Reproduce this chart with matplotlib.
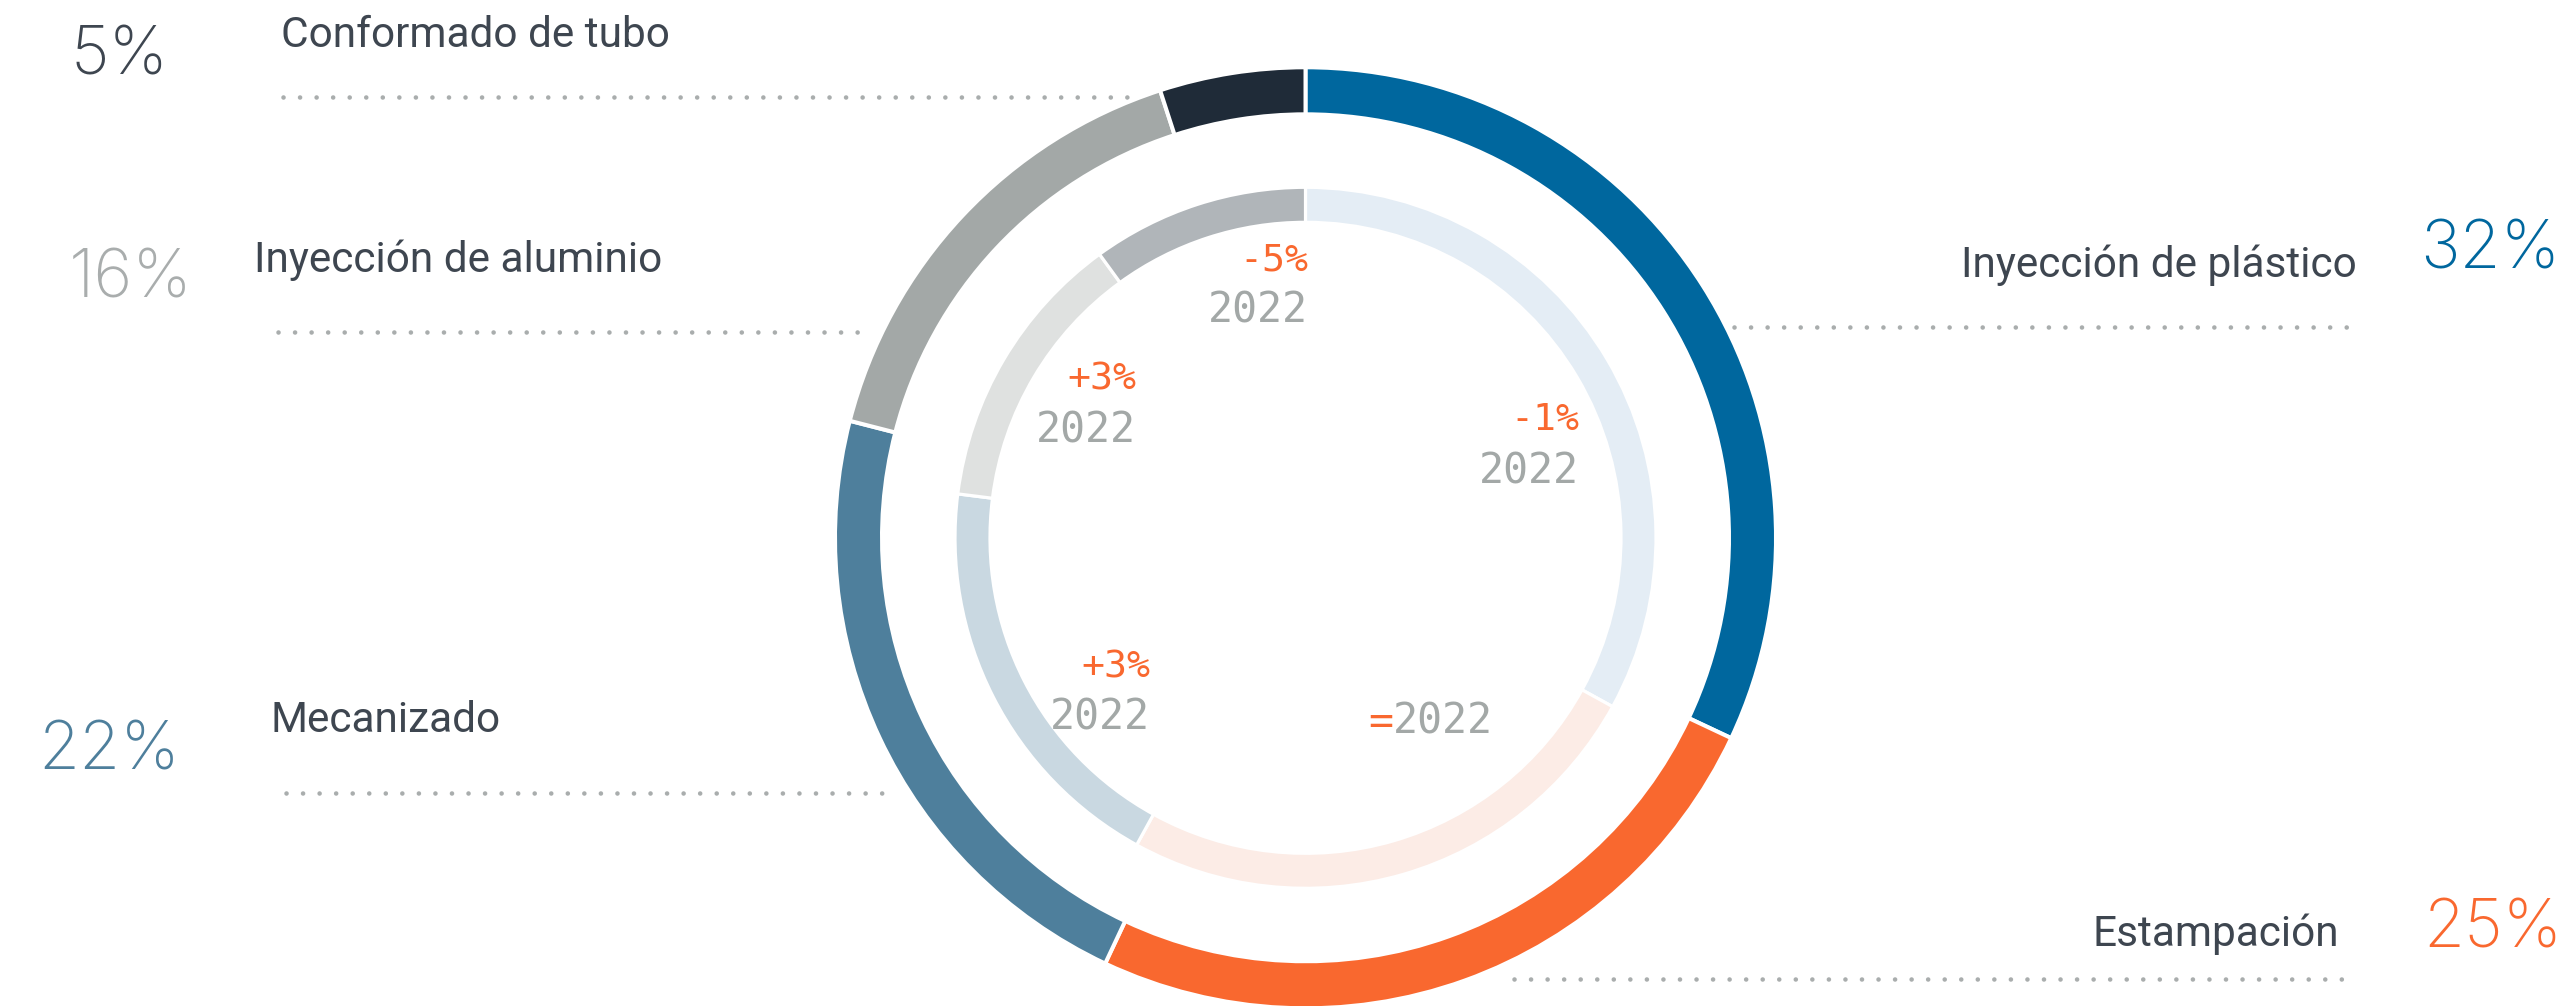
import matplotlib.pyplot as plt
from matplotlib import font_manager

W, H = 2572, 1006

# datos
categories = ["Inyección de plástico", "Estampación", "Mecanizado",
              "Inyección de aluminio", "Conformado de tubo"]
share_now = [32, 25, 22, 16, 5]
share_2022 = [33, 25, 19, 13, 10]
change_2022 = ["-1%", "=", "+3%", "+3%", "-5%"]
ref_year = "2022"

outer_colors = ["#00679e", "#f9682f", "#4e7f9c", "#a3a8a7", "#1f2b38"]
inner_colors = ["#e4edf5", "#fcece6", "#c9d8e1", "#dfe1e0", "#b0b5b9"]
pct_colors = ["#00679e", "#f9682f", "#4e7f9c", "#a9adad", "#3e4650"]

LABEL_COLOR = "#3e4650"
DOT_COLOR = "#a9adad"
ORANGE = "#f9682f"
YEAR_GRAY = "#a3a8a7"

names = {f.name for f in font_manager.fontManager.ttflist}
SANS = "Inter" if "Inter" in names else "DejaVu Sans"
LABEL_FONT = "Roboto" if "Roboto" in names else SANS
MONO = "DejaVu Sans Mono"

fig = plt.figure(figsize=(W / 100, H / 100), dpi=100)
ax = fig.add_axes([0, 0, 1, 1])

cx, cy = 1305.5, H - 537.8
gap_pt = 4 * 72 / 100

ax.pie(share_now, radius=468.5 + 2, center=(cx, cy), startangle=90,
       counterclock=False, colors=outer_colors,
       wedgeprops=dict(width=43 + 4, edgecolor="white", linewidth=gap_pt))
ax.pie(share_2022, radius=348.5 + 2, center=(cx, cy), startangle=90,
       counterclock=False, colors=inner_colors,
       wedgeprops=dict(width=31 + 4, edgecolor="white", linewidth=gap_pt * 0.8))

ax.set_aspect("auto")
ax.set_xlim(0, W)
ax.set_ylim(0, H)
ax.axis("off")


def dotted(x0, x1, y):
    lw = 3.3
    space = 16.5 * 0.72 / lw
    ax.plot([x0, x1], [H - y, H - y], color=DOT_COLOR, lw=lw,
            linestyle=(0, (0.01, space)), dash_capstyle="round", zorder=0.5)


# (x etiqueta, baseline etiqueta, ha, x porcentaje, baseline porcentaje, linea x0, x1, y)
layout = {
    "Inyección de plástico": (2357, 277, "right", 2420, 268, 1734, 2354, 327),
    "Estampación": (2339, 946, "right", 2423, 948, 1514, 2344, 979),
    "Mecanizado": (270, 732, "left", 38, 770, 286, 891, 793),
    "Inyección de aluminio": (254, 272, "left", 69, 297, 278, 866, 332),
    "Conformado de tubo": (281, 47, "left", 70, 74, 283, 1146, 97),
}

for cat, val, col in zip(categories, share_now, pct_colors):
    lx, ly, ha, px, py, x0, x1, y = layout[cat]
    ax.text(lx, H - ly, cat, ha=ha, va="baseline", fontsize=30.5,
            color=LABEL_COLOR, family=LABEL_FONT, fontweight="normal")
    ax.text(px, H - py, f"{val}%", ha="left", va="baseline", fontsize=48,
            color=col, family=SANS, fontweight="light")
    dotted(x0, x1, y)

# etiquetas del anillo interior (x derecha, centro cambio, centro año)
inner_pos = {
    "Inyección de plástico": (1579, 420, 471),
    "Mecanizado": (1150, 668, 718),
    "Inyección de aluminio": (1136, 379, 430),
    "Conformado de tubo": (1308, 260, 310),
}

for cat, chg in zip(categories, change_2022):
    if cat in inner_pos:
        xr, yc, yy = inner_pos[cat]
        ax.text(xr, H - yc, chg, ha="right", va="center", fontsize=27.5,
                color=ORANGE, family=MONO, fontweight="medium")
        ax.text(xr, H - yy, ref_year, ha="right", va="center", fontsize=30,
                color=YEAR_GRAY, family=MONO)
    else:
        # misma linea: "=2022"
        x_left, yc = 1368, 722
        adv = 0.602 * 30 * 100 / 72
        ax.text(x_left, H - yc, chg, ha="left", va="center", fontsize=30,
                color=ORANGE, family=MONO)
        ax.text(x_left + adv, H - yc, ref_year, ha="left", va="center",
                fontsize=30, color=YEAR_GRAY, family=MONO)

fig.savefig("out.png", dpi=100, facecolor="white")
